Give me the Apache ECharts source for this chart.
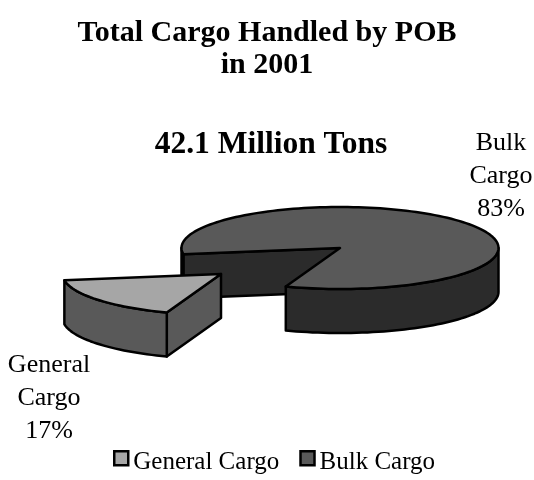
<!DOCTYPE html>
<html>
<head>
<meta charset="utf-8">
<title>Total Cargo Handled by POB in 2001</title>
<script src="https://cdn.jsdelivr.net/npm/echarts@6/dist/echarts.min.js"></script>
<style>
  html, body { margin: 0; padding: 0; background: #fff; }
  #chart { width: 534px; height: 480px; }
</style>
</head>
<body>
<div id="chart"></div>
<script>
// data
const categories = ['General Cargo', 'Bulk Cargo']
const labelLines = [['General', 'Cargo'], ['Bulk', 'Cargo']]
const shares = [17, 83]

// colours per category
const topColors = ['#a6a6a6', '#595959']
const sideColors = ['#595959', '#2b2b2b']

// pie geometry, px on the page
const pieCenter = [340, 248]
const rx = 158.5
const ry = 41
const depth = 44
const firstSliceStart = 110 // degrees clockwise from 3 o'clock
const explode = [[-119, 26], [0, 0]]
const labelPos = [[49, 398], [501, 176.5]]

const serif = '"Liberation Serif", "Times New Roman", serif'
const total = shares.reduce((a, b) => a + b, 0)

function sliceAngles (index) {
  let start = firstSliceStart
  for (let i = 0; i < index; i++) start += shares[i] / total * 360
  return [start, start + shares[index] / total * 360]
}

function ellipsePoint (cx, cy, deg) {
  const rad = deg * Math.PI / 180
  return [cx + rx * Math.cos(rad), cy + ry * Math.sin(rad)]
}

function arcPoints (cx, cy, from, to) {
  const pts = []
  const steps = Math.max(2, Math.ceil(Math.abs(to - from) / 2))
  for (let i = 0; i <= steps; i++) {
    pts.push(ellipsePoint(cx, cy, from + (to - from) * i / steps))
  }
  return pts
}

function poly (points, fill, z2) {
  return {
    type: 'polygon',
    z2: z2,
    shape: { points: points },
    style: { fill: fill, stroke: '#000', lineWidth: 2.5, lineJoin: 'round' }
  }
}

// cut face running from the pie centre out to the rim at this angle
function wall (cx, cy, deg, fill, z2) {
  const p = ellipsePoint(cx, cy, deg)
  return poly([[cx, cy], p, [p[0], p[1] + depth], [cx, cy + depth]], fill, z2)
}

// front rim is only the part of the arc on the viewer's side
function rim (cx, cy, from, to, fill, z2) {
  const out = []
  for (const k of [0, 1]) {
    const a = Math.max(from, k * 360)
    const b = Math.min(to, k * 360 + 180)
    if (b <= a) continue
    const topEdge = arcPoints(cx, cy, a, b)
    const bottomEdge = arcPoints(cx, cy + depth, b, a)
    out.push(poly(topEdge.concat(bottomEdge), fill, z2))
  }
  return out
}

function renderSlice (params, api) {
  const i = params.seriesIndex
  const [from, to] = sliceAngles(i)
  const cx = pieCenter[0] + explode[i][0]
  const cy = pieCenter[1] + explode[i][1]
  const children = [wall(cx, cy, from, sideColors[i], 1)]

  rim(cx, cy, from, to, sideColors[i], 2).forEach(p => children.push(p))

  const top = [[cx, cy]].concat(arcPoints(cx, cy, from, to))
  children.push(poly(top, topColors[i], 3))

  children.push({
    type: 'text',
    z2: 4,
    style: {
      x: labelPos[i][0],
      y: labelPos[i][1],
      text: labelLines[i].concat(api.value(0) + '%').join('\n'),
      font: '26px ' + serif,
      lineHeight: 33,
      fill: '#000',
      align: 'center',
      verticalAlign: 'middle'
    }
  })
  return { type: 'group', children: children }
}

// bulk first so the pulled out slice sits on top of it
const series = categories.map((name, i) => ({
  name: name,
  type: 'custom',
  coordinateSystem: 'none',
  silent: true,
  z: i === 0 ? 3 : 2,
  itemStyle: { color: topColors[i] },
  renderItem: renderSlice,
  data: [[shares[i]]]
}))

const chart = echarts.init(document.getElementById('chart'), null, { renderer: 'canvas' })
chart.setOption({
  animation: false,
  backgroundColor: '#fff',
  title: [
    {
      text: 'Total Cargo Handled by POB\nin 2001',
      left: 262,
      top: 12,
      textAlign: 'center',
      textStyle: { fontFamily: serif, fontSize: 30, fontWeight: 'bold', color: '#000', lineHeight: 32 }
    },
    {
      text: '42.1 Million Tons',
      left: 266,
      top: 124,
      textAlign: 'center',
      textStyle: { fontFamily: serif, fontSize: 31.5, fontWeight: 'bold', color: '#000' }
    }
  ],
  legend: {
    data: categories,
    left: 108,
    top: 445,
    icon: 'rect',
    itemWidth: 14,
    itemHeight: 14,
    itemGap: 20,
    selectedMode: false,
    itemStyle: { borderColor: '#000', borderWidth: 2.5 },
    formatter: '{t|{name}}',
    textStyle: {
      rich: {
        // pushes the words below the swatch's middle, as in the original
        t: { fontFamily: serif, fontSize: 25, color: '#000', padding: [9, 0, 0, 0] }
      }
    }
  },
  series: series
})
</script>
</body>
</html>
